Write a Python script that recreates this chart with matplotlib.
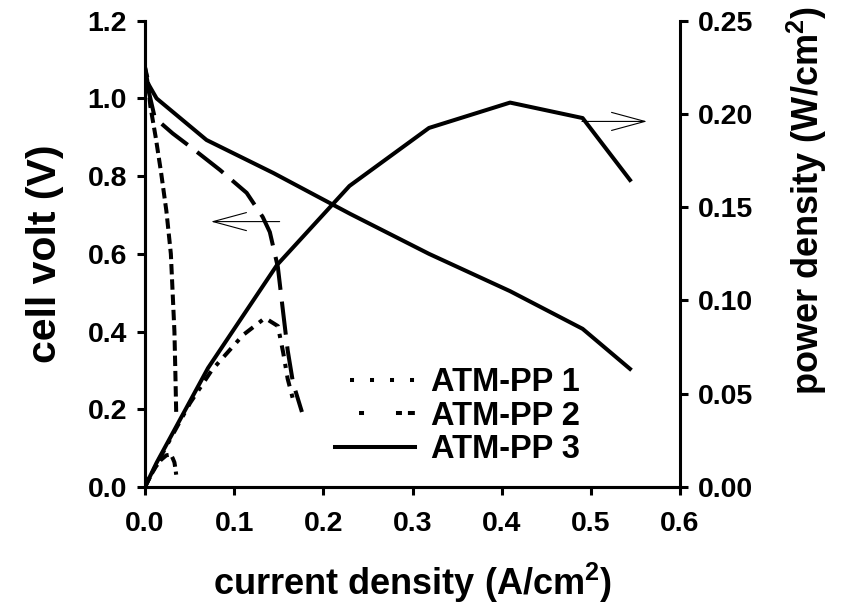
import numpy as np
import matplotlib
matplotlib.use("Agg")
from matplotlib import pyplot as plt
from matplotlib.lines import Line2D
from matplotlib.ticker import FormatStrFormatter

plt.rcParams['font.family'] = ['Liberation Sans', 'DejaVu Sans']
plt.rcParams['font.weight'] = 'bold'
plt.rcParams['mathtext.fontset'] = 'custom'
plt.rcParams['mathtext.rm'] = 'Liberation Sans:bold'
plt.rcParams['mathtext.bf'] = 'Liberation Sans:bold'
plt.rcParams['lines.scale_dashes'] = False

# ATM-PP 1 (polarization + power)
i_pp1 = [0.0, 0.003, 0.006, 0.012, 0.018, 0.024, 0.029, 0.031, 0.033, 0.034, 0.035]
v_pp1 = [1.08, 1.05, 0.98, 0.90, 0.81, 0.71, 0.60, 0.50, 0.40, 0.30, 0.19]
p_pp1 = [0.0, 0.003, 0.0059, 0.0108, 0.0146, 0.017, 0.0174, 0.0155, 0.0132, 0.0102, 0.0066]

# ATM-PP 2
i_pp2 = [0.002, 0.011, 0.031, 0.054, 0.084, 0.114, 0.132, 0.140, 0.149, 0.155, 0.160, 0.166, 0.176]
v_pp2 = [1.04, 0.95, 0.91, 0.87, 0.816, 0.757, 0.695, 0.656, 0.566, 0.448, 0.352, 0.268, 0.193]
ip_pp2 = [0.0, 0.011, 0.031, 0.0505, 0.075, 0.092, 0.110, 0.1346, 0.149, 0.155, 0.160, 0.166]
p_pp2 = [0.0, 0.0105, 0.028, 0.045, 0.0627, 0.0718, 0.0815, 0.0906, 0.0863, 0.072, 0.058, 0.047]

# ATM-PP 3
i_pp3 = [0.0, 0.003, 0.013, 0.069, 0.144, 0.230, 0.3185, 0.4094, 0.4908, 0.5439]
v_pp3 = [1.08, 1.04, 1.00, 0.893, 0.808, 0.703, 0.600, 0.504, 0.407, 0.304]
ip_pp3 = [0.0, 0.003, 0.013, 0.0707, 0.148, 0.2293, 0.3185, 0.4094, 0.4908, 0.5439]
p_pp3 = [0.0, 0.0031, 0.013, 0.0638, 0.119, 0.1614, 0.1925, 0.2061, 0.1978, 0.1646]

labels = ['ATM-PP 1', 'ATM-PP 2', 'ATM-PP 3']

fig = plt.figure(figsize=(8.43, 6.09), dpi=100)
ax = fig.add_axes([145/843, 1-487/609, 535/843, 466.3/609])
ax2 = ax.twinx()

lw = 2.9
ax.plot(i_pp1, v_pp1, color='k', lw=lw, linestyle=(0, (7.5, 3.5)))
ax2.plot(i_pp1, p_pp1, color='k', lw=lw, linestyle=(0, (7.5, 3.5)))
ax.plot(i_pp2, v_pp2, color='k', lw=lw, linestyle=(0, (24, 8.5)))
ax2.plot(ip_pp2, p_pp2, color='k', lw=lw, linestyle=(0, (8, 5.5, 3, 5.5)))
ax.plot(i_pp3, v_pp3, color='k', lw=lw)
ax2.plot(ip_pp3, p_pp3, color='k', lw=lw)

arrow = dict(arrowstyle='->,head_length=2.4,head_width=0.65', color='k', lw=0.8,
             shrinkA=0, shrinkB=0)
ax.annotate('', xy=(0.074, 0.683), xytext=(0.151, 0.683), arrowprops=arrow)
ax2.annotate('', xy=(0.563, 0.196), xytext=(0.49, 0.196), arrowprops=arrow)

ax.set_xlim(0, 0.6)
ax.set_ylim(0, 1.2)
ax2.set_ylim(0, 0.25)
ax.set_xticks(np.arange(0, 0.61, 0.1))
ax.set_yticks(np.arange(0, 1.21, 0.2))
ax2.set_yticks(np.arange(0, 0.251, 0.05))
ax.xaxis.set_major_formatter(FormatStrFormatter('%.1f'))
ax.yaxis.set_major_formatter(FormatStrFormatter('%.1f'))
ax2.yaxis.set_major_formatter(FormatStrFormatter('%.2f'))

for a in (ax, ax2):
    a.spines['top'].set_visible(False)
    for s in a.spines.values():
        s.set_linewidth(2.2)
    a.tick_params(direction='out', length=6, width=2.2, labelsize=20.5, pad=7)
ax.tick_params(axis='x', pad=11)
ax.spines['right'].set_visible(False)

ax.set_xlabel('current density (A/cm$^{2}$)', fontsize=26, fontweight='bold')
ax.xaxis.set_label_coords(0.5, -0.158)
ax.set_ylabel('cell volt (V)', fontsize=29.5, fontweight='bold')
ax.yaxis.set_label_coords(-0.152, 0.5)
ax2.set_ylabel('power density (W/cm$^{2}$)', fontsize=26, fontweight='bold')
ax2.yaxis.set_label_coords(1.195, 0.615)

handles = [Line2D([], [], color='k', lw=lw, linestyle=(3.6, (2.9, 11.5))),
           Line2D([], [], color='k', lw=lw, linestyle=(40.2, (3.6, 23, 4.3, 4.3, 5, 17.3))),
           Line2D([], [], color='k', lw=lw)]
ax2.legend(handles, labels, loc='upper left', bbox_to_anchor=(335/843, 1-367/609),
           bbox_transform=fig.transFigure, frameon=False, fontsize=23.5,
           handlelength=2.45, handletextpad=0.5, labelspacing=0.08,
           borderpad=0, borderaxespad=0)

fig.savefig('out.png', dpi=100)
